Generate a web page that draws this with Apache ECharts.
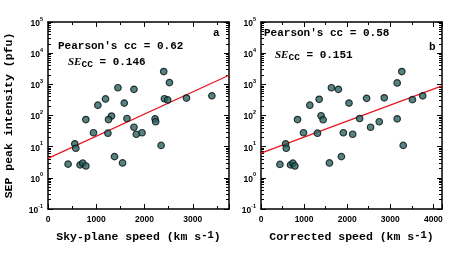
<!DOCTYPE html>
<html><head><meta charset="utf-8">
<script src="https://cdn.jsdelivr.net/npm/echarts@6/dist/echarts.min.js"></script>
<style>html,body{margin:0;padding:0;background:#fff}#c{width:457px;height:255px}</style>
</head><body><div id="c"></div>
<script>
// Data
const speedSky  = [2397,2516,1449,1781,1192,1033,1580,2412,2480,2869,3395,784,1316,1254,1636,2218,2231,1781,942,1241,1830,1948,555,576,2343,1378,1545,416,665,721,784];
const peakA     = [2570,1135,776,690,340,214,250,345,316,363,427,74,96,74,80,78,63,42,28,27,25,28,12.3,8.9,11,4.8,3.0,2.75,2.6,2.95,2.4];
const speedCorr = [3267,3160,1634,1796,1349,1133,2042,2451,2860,3514,3753,848,1394,1441,2289,2744,3160,2543,987,1310,2127,1911,571,586,3300,1865,1588,439,686,740,786];
const peakB     = [2570,1110,776,690,330,214,250,355,370,323,427,74,98,73,80,63,78,42,28,27,25,28,12.3,8.9,11,4.8,3.0,2.7,2.6,2.95,2.4];
// regression line endpoints
const fitAx = [0, 3750], fitAy = [4.2, 1950];
const fitBx = [0, 4200], fitBy = [6.2, 890];
const xMaxA = 3750, xMaxB = 4200;
const yMin = 0.1, yMax = 1e5;
const panelLabels = ['a', 'b'];
const statsA = ['0.62', '0.146'];
const statsB = ['0.58', '0.151'];

const mono = '"Liberation Mono", "DejaVu Sans Mono", monospace';
const sans = '"Liberation Sans", Arial, sans-serif';

function pts(xs, ys){ return xs.map((x,i)=>[x, ys[i]]); }
function logLabel(v){
  const e = Math.round(Math.log10(v));
  return '{b|10}{s|' + e + '}';
}
const logRich = {
  b:{fontSize:8.5, fontFamily:sans, fontWeight:'bold', color:'#000', lineHeight:12, verticalAlign:'bottom'},
  s:{fontSize:5.5, fontFamily:sans, fontWeight:'bold', color:'#000', lineHeight:12, verticalAlign:'top'}
};
const nameRich = {
  sup:{fontSize:10.5, fontFamily:mono, fontWeight:'bold', color:'#000', verticalAlign:'top', lineHeight:14}
};
const tickStyle = {show:true, inside:true, length:5, lineStyle:{color:'#000', width:1}};
const minorStyle = {show:true, splitNumber:2, length:3, lineStyle:{color:'#000', width:1}};

function xAx(gi, max, name){
  return [{
    type:'value', gridIndex:gi, min:0, max:max, interval:1000,
    axisLine:{show:true, onZero:false, lineStyle:{color:'#000', width:1.5}},
    axisTick:tickStyle, minorTick:minorStyle, splitLine:{show:false},
    axisLabel:{fontSize:8.5, fontFamily:sans, fontWeight:'bold', color:'#000', margin:6, showMaxLabel:false,
      formatter:function(v){ return String(v); }},
    name:name, nameLocation:'middle', nameGap:21,
    nameTextStyle:{fontSize:11.5, fontFamily:mono, fontWeight:'bold', color:'#000', rich:nameRich}
  },{
    type:'value', gridIndex:gi, position:'top', min:0, max:max, interval:1000,
    axisLine:{show:true, onZero:false, lineStyle:{color:'#000', width:1.5}},
    axisTick:tickStyle, minorTick:minorStyle, splitLine:{show:false}, axisLabel:{show:false}
  }];
}
function yAx(gi, name){
  const a = {
    type:'log', logBase:10, gridIndex:gi, min:yMin, max:yMax,
    axisLine:{show:true, onZero:false, lineStyle:{color:'#000', width:1.5}},
    axisTick:tickStyle, minorTick:{show:true, splitNumber:9, length:3, lineStyle:{color:'#000'}},
    splitLine:{show:false},
    axisLabel:{formatter:logLabel, rich:logRich, margin:5}
  };
  if (name){
    a.name = name; a.nameLocation='middle'; a.nameGap=33;
    a.nameTextStyle = {fontSize:11.5, fontFamily:mono, fontWeight:'bold', color:'#000'};
  }
  const b = Object.assign({}, a, {position:'right', axisLabel:{show:false}, name:''});
  return [a, b];
}

const chart = echarts.init(document.getElementById('c'), null, {renderer:'canvas'});
const xs = xAx(0, xMaxA, 'Sky-plane speed (km s{sup|-1})').concat(xAx(1, xMaxB, 'Corrected speed (km s{sup|-1})'));
const ys = yAx(0, 'SEP peak intensity (pfu)').concat(yAx(1, null));

function scatter(xi, yi, data){
  return {type:'scatter', xAxisIndex:xi, yAxisIndex:yi, data:data, symbolSize:6.5,
    itemStyle:{color:'#2c6361', borderColor:'#050f0f', borderWidth:1.2}, z:3};
}
function fit(xi, yi, xsd, ysd){
  return {type:'line', xAxisIndex:xi, yAxisIndex:yi, data:pts(xsd, ysd), showSymbol:false, symbol:'none',
    lineStyle:{color:'#e8141e', width:1.2}, z:2, silent:true};
}
function statText(left, top, topSE, leftSE, st){
  return [{
    type:'text', left:left, top:top,
    style:{text:"Pearson's cc = " + st[0], font:'bold 11px ' + mono, fill:'#000'}
  },{
    type:'text', left:leftSE, top:topSE,
    style:{text:'{i|SE}{sub|CC}{n| = ' + st[1] + '}', rich:{
      i:{font:'italic bold 11px "Liberation Serif", serif', fill:'#000', lineHeight:16, verticalAlign:'middle'},
      sub:{font:'bold 9.5px ' + mono, fill:'#000', lineHeight:16, verticalAlign:'bottom', padding:[6,0,0,0]},
      n:{font:'bold 11px ' + mono, fill:'#000', lineHeight:16, verticalAlign:'middle'}
    }}
  }];
}

chart.setOption({
  animation:false,
  grid:[
    {left:48, top:22, width:181, height:187},
    {left:261, top:22, width:181, height:187}
  ],
  xAxis:xs, yAxis:ys,
  series:[
    fit(0,0,fitAx,fitAy), scatter(0,0,pts(speedSky, peakA)),
    fit(2,2,fitBx,fitBy), scatter(2,2,pts(speedCorr, peakB))
  ],
  graphic:[].concat(
    statText(58, 41, 54, 68, statsA),
    statText(264, 28, 47, 275, statsB),
    [{type:'text', left:213, top:28, style:{text:panelLabels[0], font:'bold 11px ' + mono, fill:'#000'}},
     {type:'text', left:429, top:42, style:{text:panelLabels[1], font:'bold 11px ' + mono, fill:'#000'}}]
  )
});
</script></body></html>
